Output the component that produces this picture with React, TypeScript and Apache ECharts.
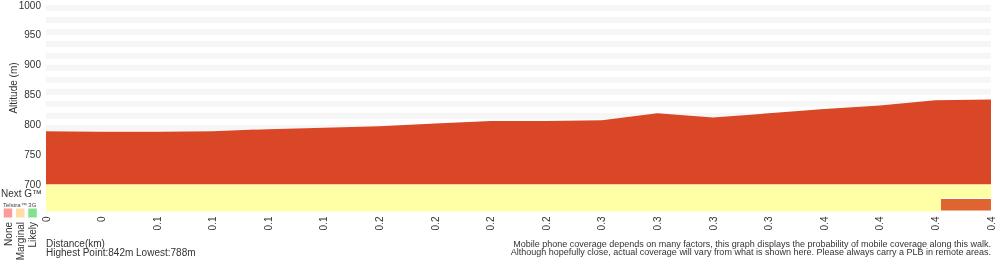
import React, { useEffect, useRef } from "react";
import * as echarts from "echarts";

const distLabels = ["0", "0", "0.1", "0.1", "0.1", "0.1", "0.2", "0.2", "0.2", "0.2", "0.3", "0.3", "0.3", "0.3", "0.4", "0.4", "0.4", "0.4"];
const altitude = [789, 788, 788, 789, 792.5, 795, 797.5, 802, 806, 806, 807.5, 819, 812, 819, 826, 832, 841, 842];

const altTicks = { min: 700, max: 1000, step: 50 };

// coverage bands: start/end in label-index units, row (0 = Telstra 3G, 1 = Next G), level
const coverageRows = ["Telstra™ 3G", "Next G™"];
const coverageStart = [0, 0, 16.1];
const coverageEnd = [17, 16.1, 17];
const coverageRow = [1, 0, 0];
const coverageLevel = ["band", "band", "none"];

const legendNames = ["None", "Marginal", "Likely"];
const legendColors = ["#ff9a9a", "#ffdda6", "#80e28e"];

const FONT = "'Liberation Sans', Arial, Helvetica, sans-serif";
const levelColor: Record<string, string> = { band: "#ffffa6", none: "#e0642f" };

export default function App() {
  const ref = useRef<HTMLDivElement>(null);
  useEffect(() => {
    if (!ref.current) return;
    const chart = echarts.init(ref.current, undefined, { renderer: "svg" });
    const coverageData = coverageStart.map((s, i) => [s, coverageEnd[i], coverageRow[i], coverageLevel[i]]);
    const legendGraphics: any[] = [];
    legendNames.forEach((n, i) => {
      const cx = 8 + i * 12.3;
      legendGraphics.push({
        type: "rect",
        shape: { x: cx - 4.3, y: 208.5, width: 8.5, height: 9 },
        style: { fill: legendColors[i] },
      });
      legendGraphics.push({
        type: "text",
        x: cx,
        y: 222,
        rotation: Math.PI / 2,
        style: { text: n, fontSize: 10, fontFamily: FONT, fill: "#333", align: "right", verticalAlign: "middle" },
      });
    });
    chart.setOption({
      animation: false,
      textStyle: { fontFamily: FONT },
      grid: [
        { left: 46, right: 9, top: 2.5, height: 182 },
        { left: 46, right: 9, top: 184.5, height: 27 },
      ],
      xAxis: [
        { gridIndex: 0, type: "category", data: distLabels, boundaryGap: false, show: false },
        {
          gridIndex: 1,
          type: "category",
          data: distLabels,
          boundaryGap: false,
          axisLine: { show: false },
          axisTick: { show: false },
          axisLabel: { rotate: 90, margin: 5, fontSize: 10, color: "#333", interval: 0, fontFamily: FONT },
        },
        { gridIndex: 1, type: "value", min: 0, max: distLabels.length - 1, show: false },
      ],
      yAxis: [
        {
          gridIndex: 0,
          type: "value",
          min: altTicks.min,
          max: altTicks.max,
          interval: altTicks.step,
          axisLine: { show: false },
          axisTick: { show: false },
          splitLine: { show: false },
          axisLabel: { fontSize: 10, color: "#333", margin: 5, fontFamily: FONT, formatter: (v: number) => String(v) },
        },
        {
          gridIndex: 0,
          type: "value",
          position: "left",
          min: altTicks.min,
          max: altTicks.max,
          interval: 10,
          axisLine: { show: false },
          axisTick: { show: false },
          axisLabel: { show: false },
          splitLine: { show: false },
          splitArea: { show: true, areaStyle: { color: ["#ffffff", "#f6f6f6"] } },
        },
        { gridIndex: 1, type: "category", data: coverageRows, show: false },
      ],
      series: [
        {
          type: "line",
          xAxisIndex: 0,
          yAxisIndex: 0,
          data: altitude,
          symbol: "none",
          lineStyle: { width: 0 },
          areaStyle: { color: "#da4727", opacity: 1, origin: "start" },
          z: 3,
        },
        {
          type: "custom",
          xAxisIndex: 2,
          yAxisIndex: 2,
          data: coverageData,
          renderItem: (params: any, api: any) => {
            const s = api.coord([api.value(0), api.value(2)]);
            const e = api.coord([api.value(1), api.value(2)]);
            const h = api.size([0, 1])[1];
            const lvl = coverageData[params.dataIndex][3] as string;
            const inset = lvl === "none" ? 1 : 0;
            return {
              type: "rect",
              shape: { x: s[0], y: s[1] - h / 2 + inset, width: e[0] - s[0], height: h - inset * 2 },
              style: { fill: levelColor[lvl] },
            };
          },
        },
      ],
      graphic: [
        {
          type: "text",
          x: 13,
          y: 88,
          rotation: Math.PI / 2,
          style: { text: "Altitude (m)", fontSize: 10, fontFamily: FONT, fill: "#333", align: "center", verticalAlign: "middle" },
        },
        {
          type: "text",
          x: 1,
          y: 193,
          style: { text: "Next G™", fontSize: 10, fontFamily: FONT, fill: "#333", verticalAlign: "middle" },
        },
        {
          type: "text",
          x: 3,
          y: 205,
          style: { text: "Telstra™ 3G", fontSize: 6, fontFamily: FONT, fill: "#444", verticalAlign: "middle" },
        },
        ...legendGraphics,
        {
          type: "text",
          x: 46,
          y: 243.5,
          style: { text: "Distance(km)", fontSize: 10, fontFamily: FONT, fill: "#333", verticalAlign: "middle" },
        },
        {
          type: "text",
          x: 46,
          y: 252.5,
          style: { text: "Highest Point:842m Lowest:788m", fontSize: 10, fontFamily: FONT, fill: "#333", verticalAlign: "middle" },
        },
        {
          type: "text",
          x: 991,
          y: 243.5,
          style: {
            text: "Mobile phone coverage depends on many factors, this graph displays the probability of mobile coverage along this walk.",
            fontSize: 9,
            fontFamily: FONT,
            fill: "#333",
            align: "right",
            verticalAlign: "middle",
          },
        },
        {
          type: "text",
          x: 991,
          y: 252,
          style: {
            text: "Although hopefully close, actual coverage will vary from what is shown here. Please always carry a PLB in remote areas.",
            fontSize: 9,
            fontFamily: FONT,
            fill: "#333",
            align: "right",
            verticalAlign: "middle",
          },
        },
      ],
    });
    return () => chart.dispose();
  }, []);
  return <div ref={ref} style={{ position: "fixed", left: 0, top: 0, width: 1000, height: 260 }} />;
}
